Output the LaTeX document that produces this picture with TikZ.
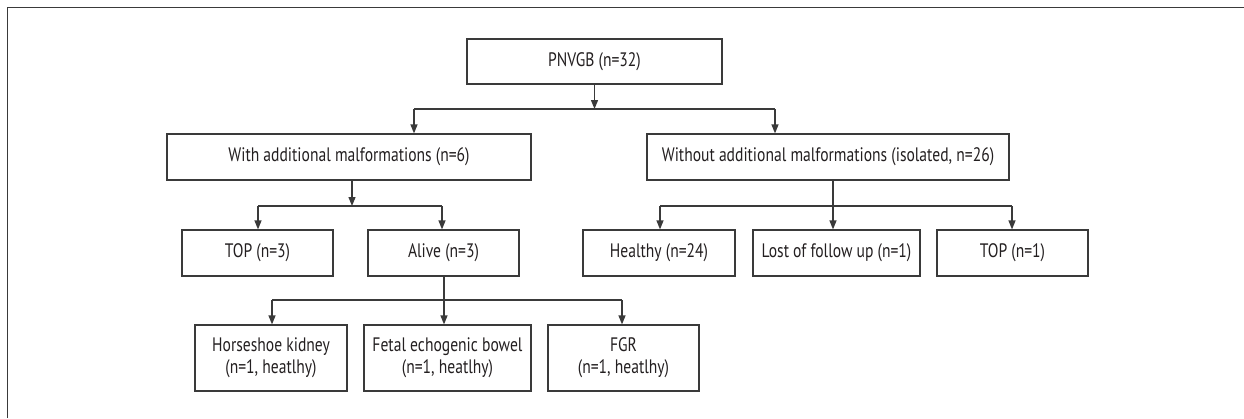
\documentclass[tikz,border=0pt]{standalone}
\usepackage{fontspec}
\setmainfont{PT Sans}[FakeStretch=0.8]
\usetikzlibrary{arrows.meta}
\definecolor{ink}{HTML}{231F20}
\definecolor{ln}{HTML}{3A3A3A}
\tikzset{
  box/.style={draw=ln, line width=1.2pt, inner sep=0pt, text=ink, font=\fontsize{19.5}{22}\selectfont, align=center},
  lvlA/.style={box, minimum height=45pt},
  lvlB/.style={box, minimum height=46pt},
  lvlC/.style={box, minimum height=66pt},
  wire/.style={draw=ln, line width=1.2pt},
  arr/.style={wire, -{Triangle[length=9pt,width=7pt]}},
}
\begin{document}
\begin{tikzpicture}[x=1pt,y=-1pt]
\useasboundingbox (0,0) rectangle (1244,418);
\draw[draw=ln, line width=1.6pt] (7.5,418) -- (7.5,7.5) -- (1244,7.5);

\node[lvlA, minimum width=255pt] (p) at (594.5,61.5) {PNVGB (n=32)};
\node[lvlB, minimum width=364pt] (with) at (349,157) {With additional malformations (n=6)};
\node[lvlB, minimum width=362pt] (without) at (828,157) {Without additional malformations (isolated, n=26)};
\node[lvlB, minimum width=151pt] (top3) at (257.5,253) {TOP (n=3)};
\node[lvlB, minimum width=151pt] (alive) at (443.5,253) {Alive (n=3)};
\node[lvlB, minimum width=152pt] (healthy) at (659,253) {Healthy (n=24)};
\node[lvlB, minimum width=167pt] (lost) at (836.5,253) {Lost of follow up (n=1)};
\node[lvlB, minimum width=151pt] (top1) at (1012.5,253) {TOP (n=1)};
\node[lvlC, minimum width=152pt] (horse) at (271,358) {Horseshoe kidney\\(n=1, heatlhy)};
\node[lvlC, minimum width=167pt] (fetal) at (447.5,358) {Fetal echogenic bowel\\(n=1, heatlhy)};
\node[lvlC, minimum width=151pt] (fgr) at (623.5,358) {FGR\\(n=1, heatlhy)};

% level 1 -> 2
\coordinate (aL) at (414,109);
\coordinate (aR) at (775,109);
\coordinate (aM) at (594.5,109);
\draw[wire] (aL) -- (aR);
\draw[arr] (p.south) -- (aM);
\draw[arr] (aL) -- (aL |- with.north);
\draw[arr] (aR) -- (aR |- without.north);

% with -> top3, alive
\coordinate (bL) at (258,206);
\coordinate (bR) at (442,206);
\coordinate (bM) at (352,206);
\draw[wire] (bL) -- (bR);
\draw[arr] (bM |- with.south) -- (bM);
\draw[arr] (bL) -- (bL |- top3.north);
\draw[arr] (bR) -- (bR |- alive.north);

% without -> healthy, lost, top1
\coordinate (cL) at (660,206);
\coordinate (cM) at (833,206);
\coordinate (cR) at (1012,206);
\draw[wire] (cL) -- (cR);
\draw[wire] (cM |- without.south) -- (cM);
\draw[arr] (cL) -- (cL |- healthy.north);
\draw[arr] (cM) -- (cM |- lost.north);
\draw[arr] (cR) -- (cR |- top1.north);

% alive -> horse, fetal, fgr
\coordinate (dL) at (272,300);
\coordinate (dM) at (444,300);
\coordinate (dR) at (622,300);
\draw[wire] (dL) -- (dR);
\draw[wire] (dM |- alive.south) -- (dM);
\draw[arr] (dL) -- (dL |- horse.north);
\draw[arr] (dM) -- (dM |- fetal.north);
\draw[arr] (dR) -- (dR |- fgr.north);
\end{tikzpicture}
\end{document}
